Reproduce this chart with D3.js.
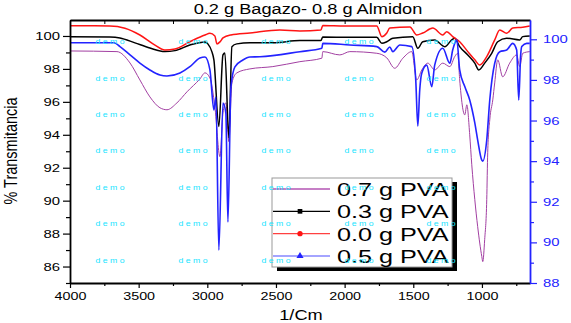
<!DOCTYPE html>
<html>
<head>
<meta charset="utf-8">
<script src="https://cdn.jsdelivr.net/npm/d3@7"></script>
<style>
  body { margin: 0; background: #fff; }
  text { font-family: Arial, "Liberation Sans", sans-serif; }
</style>
</head>
<body>
<svg id="chart" width="571" height="323"></svg>
<script>
// [wavenumber (1/cm), % transmittance]
const pva07 = [[4000,99.09],[3658,99.05],[3563,98.36],[3491,97.33],[3418,96.30],[3345,95.64],[3294,95.52],[3221,95.94],[3148,96.61],[3054,97.39],[3017,97.76],[2981,97.45],[2945,95.70],[2908,92.67],[2886,95.33],[2865,95.94],[2843,93.58],[2821,97.15],[2785,97.76],[2690,98.00],[2523,98.14],[2326,98.44],[2166,98.65],[2159,99.05],[2035,98.85],[1962,99.05],[1766,98.95],[1693,98.67],[1635,98.04],[1576,98.65],[1511,99.05],[1475,97.33],[1438,97.94],[1394,98.35],[1344,97.94],[1285,98.35],[1234,98.14],[1198,98.75],[1176,98.95],[1162,97.33],[1125,95.21],[1110,95.82],[1089,94.00],[1074,92.18],[1052,90.06],[1031,88.42],[1001,86.61],[994,86.30],[980,87.64],[965,90.06],[958,92.91],[943,94.91],[921,96.12],[907,97.15],[885,98.55],[849,97.52],[798,98.35],[747,98.85],[725,98.14],[703,98.95],[652,99.05]];

const pva03 = [[4000,99.96],[3709,99.94],[3636,99.88],[3527,99.58],[3418,99.27],[3309,99.05],[3236,99.11],[3127,99.45],[3017,99.64],[2996,99.52],[2967,99.05],[2952,98.55],[2916,94.50],[2886,98.85],[2872,98.97],[2843,93.82],[2821,99.35],[2785,99.52],[2690,99.59],[2523,99.59],[2326,99.72],[2173,99.72],[2159,99.94],[1962,99.92],[1766,99.92],[1729,99.56],[1693,99.65],[1649,99.86],[1504,99.96],[1467,99.25],[1431,99.65],[1344,99.76],[1271,99.35],[1220,99.76],[1198,99.86],[1162,99.35],[1103,98.85],[1052,98.35],[1023,97.94],[980,98.35],[929,98.95],[885,99.65],[820,99.86],[725,99.76],[703,99.96],[652,100.00]];

const pva00 = [[4000,100.62],[3709,100.61],[3600,100.47],[3491,100.06],[3381,99.45],[3309,99.15],[3236,99.21],[3127,99.65],[3017,100.06],[2981,100.16],[2945,100.00],[2930,99.52],[2908,99.64],[2886,99.88],[2828,100.06],[2690,100.18],[2472,100.36],[2326,100.30],[2173,100.36],[2159,100.64],[1999,100.61],[1766,100.61],[1729,99.96],[1693,100.18],[1671,100.48],[1525,100.55],[1475,100.06],[1431,100.18],[1358,100.48],[1285,100.06],[1256,100.26],[1213,99.96],[1162,99.65],[1103,99.05],[1052,98.55],[1016,98.24],[965,98.75],[907,99.76],[870,100.36],[820,100.16],[776,100.48],[703,100.53],[652,100.61]];

// this one is on the right (blue) axis
const pva05 = [[4000,99.83],[3680,99.83],[3636,99.64],[3563,99.23],[3491,98.83],[3418,98.49],[3345,98.24],[3294,98.19],[3199,98.34],[3127,98.65],[3054,99.08],[3017,99.13],[2981,98.49],[2952,96.52],[2937,97.16],[2916,89.62],[2886,96.86],[2865,96.37],[2850,91.00],[2828,97.65],[2799,98.64],[2741,98.98],[2690,99.13],[2617,99.14],[2326,99.39],[2166,99.56],[2159,99.80],[1962,99.72],[1766,99.64],[1707,99.37],[1671,99.62],[1649,99.39],[1598,99.72],[1511,99.64],[1482,97.99],[1467,95.73],[1453,97.50],[1438,98.34],[1402,98.73],[1365,97.67],[1344,98.73],[1285,99.56],[1234,98.82],[1213,99.47],[1183,99.97],[1162,98.49],[1125,97.67],[1089,97.01],[1052,95.88],[1031,95.04],[1001,94.05],[994,94.00],[965,95.04],[943,97.01],[907,98.82],[870,99.39],[820,99.47],[776,99.80],[747,99.47],[732,97.01],[718,99.23],[710,99.64],[674,99.80],[652,99.80]];

const legendLabels = ["0.7 g PVA", "0.3 g PVA", "0.0 g PVA", "0.5 g PVA"];
const xTicks = [4000, 3500, 3000, 2500, 2000, 1500, 1000];
const xMinor = [3750, 3250, 2750, 2250, 1750, 1250, 750];
const xTopTicks = d3.range(4000, 700, -250);
const yLeftTicks = [86, 88, 90, 92, 94, 96, 98, 100];
const yLeftMinor = [85, 87, 89, 91, 93, 95, 97, 99];
const yRightTicks = [88, 90, 92, 94, 96, 98, 100];
const yRightMinor = [89, 91, 93, 95, 97, 99];

const W = 571, H = 323;
const margin = { top: 20, right: 41, bottom: 40, left: 70 };
const SX = 1.3; // the picture is stretched sideways

const svg = d3.select("#chart");

// stretch text horizontally to match the reference
function stretch(sel, k) {
  sel.each(function () {
    const w = this.getComputedTextLength();
    d3.select(this).attr("textLength", w * (k || SX)).attr("lengthAdjust", "spacingAndGlyphs");
  });
}

const x = d3.scaleLinear().domain([4000, 650]).range([margin.left, W - margin.right]);
const yL = d3.scaleLinear().domain([85, 100.97]).range([H - margin.bottom, margin.top]);
const yR = d3.scaleLinear().domain([88, 100.95]).range([H - margin.bottom, margin.top]);

svg.append("defs").append("clipPath").attr("id", "clip")
  .append("rect")
  .attr("x", margin.left).attr("y", margin.top)
  .attr("width", W - margin.left - margin.right)
  .attr("height", H - margin.top - margin.bottom);

const series = [
  { data: pva07, y: yL, color: "#a23fa2", width: 1 },
  { data: pva03, y: yL, color: "#000000", width: 1.5 },
  { data: pva00, y: yL, color: "#ff1414", width: 1.5 },
  { data: pva05, y: yR, color: "#2323ff", width: 1.6 }
];

const plot = svg.append("g").attr("clip-path", "url(#clip)");
series.forEach(s => {
  const line = d3.line()
    .x(d => x(d[0]))
    .y(d => s.y(d[1]))
    .curve(d3.curveMonotoneX);
  plot.append("path")
    .datum(s.data)
    .attr("fill", "none")
    .attr("stroke", s.color)
    .attr("stroke-width", s.width)
    .attr("d", line);
});

// axes
const fs = "11px";
const fmt = d3.format("d");
const gBottom = svg.append("g").attr("transform", `translate(0,${H - margin.bottom})`)
  .call(d3.axisBottom(x).tickValues(xTicks).tickFormat(fmt).tickSize(5).tickSizeOuter(0).tickPadding(4));
gBottom.append("g").call(d3.axisBottom(x).tickValues(xMinor).tickSize(3).tickSizeOuter(0).tickFormat(""));
gBottom.selectAll("text").attr("font-size", fs).attr("fill", "#000").call(stretch);

const gTop = svg.append("g").attr("transform", `translate(0,${margin.top})`)
  .call(d3.axisTop(x).tickValues(xTopTicks).tickSizeInner(-4).tickSizeOuter(0).tickFormat(""));

const gLeft = svg.append("g").attr("transform", `translate(${margin.left},0)`)
  .call(d3.axisLeft(yL).tickValues(yLeftTicks).tickFormat(fmt).tickSize(7).tickSizeOuter(0).tickPadding(3));
gLeft.append("g").call(d3.axisLeft(yL).tickValues(yLeftMinor).tickSize(4).tickSizeOuter(0).tickFormat(""));
gLeft.selectAll("text").attr("font-size", fs).attr("fill", "#000").call(stretch, 1.35);

const gRight = svg.append("g").attr("transform", `translate(${W - margin.right},0)`)
  .call(d3.axisRight(yR).tickValues(yRightTicks).tickFormat(fmt).tickSize(7).tickSizeOuter(0).tickPadding(6));
gRight.append("g").call(d3.axisRight(yR).tickValues(yRightMinor).tickSize(4).tickSizeOuter(0).tickFormat(""));
gRight.selectAll("text").attr("font-size", fs).attr("fill", "#2323ff").call(stretch, 1.35);
gRight.selectAll("line,path").attr("stroke", "#2323ff");

[gBottom, gTop, gLeft].forEach(g => g.selectAll("line,path").attr("stroke", "#000"));
[gBottom, gTop, gLeft, gRight].forEach(g => g.select(".domain").attr("stroke-width", 1.8));
[gBottom, gLeft, gRight].forEach(g => g.selectAll(".tick line").attr("stroke-width", 1.2));

// titles
svg.append("text")
  .attr("x", 308).attr("y", 14)
  .attr("text-anchor", "middle")
  .attr("font-size", "14px")
  .text("0.2 g Bagazo- 0.8 g Almidon")
  .call(stretch);

svg.append("text")
  .attr("x", 301).attr("y", 320)
  .attr("text-anchor", "middle")
  .attr("font-size", "14px")
  .text("1/Cm")
  .call(stretch);

svg.append("g")
  .attr("transform", "translate(17,151) scale(1.3,1) rotate(-90)")
  .append("text")
  .attr("text-anchor", "middle")
  .attr("font-size", "14.5px")
  .text("% Transmitancia");

// legend
const lg = { x: 272, y: 178, w: 180, h: 89 };
svg.append("rect")
  .attr("x", lg.x + 5).attr("y", lg.y + 4)
  .attr("width", lg.w).attr("height", lg.h)
  .attr("fill", "#000");
svg.append("rect")
  .attr("x", lg.x).attr("y", lg.y)
  .attr("width", lg.w).attr("height", lg.h)
  .attr("fill", "#fff").attr("stroke", "#999").attr("stroke-width", 1);

const rowY = d3.scalePoint().domain(legendLabels).range([189, 256]);
const legendColors = ["#c67fc6", "#000000", "#ff4040", "#4a4aff"];
const legendMarks = [null, d3.symbolSquare, d3.symbolCircle, d3.symbolTriangle];

legendLabels.forEach((lab, i) => {
  const yy = rowY(lab);
  svg.append("line")
    .attr("x1", lg.x + 1).attr("x2", 330)
    .attr("y1", yy).attr("y2", yy)
    .attr("stroke", legendColors[i])
    .attr("stroke-width", i === 0 ? 1.8 : 1.2);
  if (legendMarks[i]) {
    svg.append("path")
      .attr("transform", `translate(300,${yy})`)
      .attr("d", d3.symbol().type(legendMarks[i]).size(22)())
      .attr("fill", series[i].color);
  }
  svg.append("text")
    .attr("x", 337).attr("y", yy + 7)
    .attr("font-size", "18px")
    .attr("fill", "#000")
    .text(lab)
    .call(stretch, 1.4);
});

// watermark grid (drawn on top, as in the original)
const demoCols = [110, 193, 276, 359, 441];
const demoRows = [41, 78, 114, 150, 187, 223, 260];
demoRows.forEach(r => demoCols.forEach(c => {
  svg.append("text")
    .attr("x", c).attr("y", r + 2.5)
    .attr("text-anchor", "middle")
    .attr("font-size", "7px")
    .attr("fill", "#18e4ff")
    .text("d e m o")
    .call(stretch, 1.25);
}));
</script>
</body>
</html>
